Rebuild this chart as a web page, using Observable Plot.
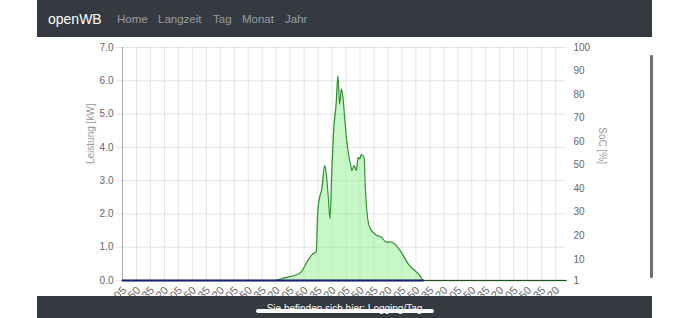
<!DOCTYPE html>
<html><head><meta charset="utf-8">
<script src="https://cdn.jsdelivr.net/npm/d3@7"></script>
<script src="https://cdn.jsdelivr.net/npm/@observablehq/plot@0.6"></script>
<style>
html,body{margin:0;padding:0;background:#fff;width:690px;height:318px;overflow:hidden;font-family:"Liberation Sans",Arial,Helvetica,sans-serif;}
#nav{position:absolute;left:37px;top:0;width:615px;height:37px;background:#343a40;}
#nav .brand{position:absolute;left:11px;top:9px;font-size:14px;line-height:20px;color:#fff;}
#nav .link{position:absolute;top:12px;font-size:11.5px;line-height:14px;color:rgba(255,255,255,0.5);}
.chart{position:absolute;left:0;top:37px;}
#footer{position:absolute;left:37px;top:296px;width:615px;height:22px;background:#343a40;overflow:hidden;}
#footer .txt{position:absolute;left:0;top:8px;width:615px;text-align:center;font-size:10px;line-height:10px;color:#fff;}
#footer .pill{position:absolute;left:219px;top:13px;width:178px;height:4px;border-radius:2px;background:#fff;}
#scroll{position:absolute;left:650px;top:55px;width:2.5px;height:223px;background:#707070;border-radius:1px;}
</style></head>
<body>
<div id="nav">
  <span class="brand">openWB</span>
  <span class="link" style="left:80px">Home</span>
  <span class="link" style="left:121px">Langzeit</span>
  <span class="link" style="left:176px">Tag</span>
  <span class="link" style="left:205px">Monat</span>
  <span class="link" style="left:248px">Jahr</span>
</div>
<div id="c1" class="chart"></div>
<div id="c2" class="chart"></div>
<div id="footer"><div class="txt">Sie befinden sich hier: Logging/Tag</div><div class="pill"></div></div>
<div id="scroll"></div>
<script>
// ---- data ----
const tickTimes = ["00:05","00:50","01:35","02:20","03:05","03:50","04:35","05:20","06:05","06:50","07:35","08:20","09:05","09:50","10:35","11:20","12:05","12:50","13:35","14:20","15:05","15:50","16:35","17:20","18:05","18:50","19:35","20:20","21:05","21:50","22:35","23:20"];
const pvTimes = ["00:05","08:13","08:46","09:19","09:40","10:02","10:18","10:29","10:34","10:39","10:47","10:56","11:00","11:07","11:13","11:20","11:25","11:33","11:39","11:44","11:50","11:55","12:00","12:06","12:13","12:19","12:24","12:31","12:38","12:44","12:49","12:54","13:03","13:07","13:14","13:21","13:37","13:59","14:15","14:31","14:47","15:03","15:25","15:46","16:03","16:14","23:55"];
const pvKw    = [0,0,0.08,0.15,0.25,0.6,0.8,0.87,2.1,2.45,2.75,3.45,3.3,2.6,1.86,3.5,4.5,5.3,6.15,5.3,5.75,5.5,4.95,4.3,3.8,3.5,3.3,3.45,3.3,3.7,3.65,3.78,3.7,2.8,1.9,1.6,1.4,1.3,1.15,1.15,1.05,0.85,0.5,0.3,0.15,0,0];
const socLineTimes = ["00:05","16:14"];
const socLineKw = [0,0];
const kwTicks = [0,1,2,3,4,5,6,7];
const socTicks = [1,10,20,30,40,50,60,70,80,90,100];
const xDomain = ["00:05","23:55"];

// ---- build ----
const toMin = s => { const [h,m] = s.split(":").map(Number); return h*60+m; };
const pv = pvTimes.map((t,i)=>({t:toMin(t), kw:pvKw[i]}));
const base = socLineTimes.map((t,i)=>({t:toMin(t), kw:socLineKw[i]}));
const tickMins = tickTimes.map(toMin);
const labelOf = new Map(tickTimes.map(t=>[toMin(t), t]));

const common = {
  width:690, height:259, marginLeft:122, marginRight:124, marginTop:10, marginBottom:16,
  style:{background:"transparent", fontFamily:"'Liberation Sans', Arial, sans-serif", fontSize:"10px", color:"#666", overflow:"visible"}
};

const chart1 = Plot.plot({
  ...common,
  x:{type:"linear", domain:xDomain.map(toMin), axis:null},
  y:{domain:[0,7], axis:null},
  marks:[
    Plot.gridX(tickMins, {stroke:"#000", strokeOpacity:0.1}),
    Plot.gridY(kwTicks, {stroke:"#000", strokeOpacity:0.1}),
    Plot.areaY(pv, {x:"t", y:"kw", fill:"#90ee90", fillOpacity:0.5, curve:"monotone-x"}),
    Plot.lineY(pv, {x:"t", y:"kw", stroke:"#2f8f2f", strokeWidth:1.2, curve:"monotone-x"}),
    Plot.ruleY([0], {stroke:"#000", strokeOpacity:0.4, strokeWidth:1.5}),
    Plot.lineY(base, {x:"t", y:"kw", stroke:"#1a1f71", strokeWidth:2}),
    Plot.ruleX([toMin(xDomain[0])], {stroke:"#000", strokeOpacity:0.25}),
    Plot.axisY(kwTicks, {anchor:"left", tickSize:6, tickPadding:3, stroke:"#000", strokeOpacity:0.1, fill:"#666", tickFormat:d=>d.toFixed(1), label:null}),
    Plot.axisX(tickMins, {anchor:"bottom", tickSize:0, tickPadding:8, dx:2, tickRotate:-45, fill:"#666", fontSize:11, tickFormat:d=>labelOf.get(d), label:null}),
    Plot.text(["Leistung [kW]"], {frameAnchor:"left", dx:-32, rotate:-90, fill:"#999"})
  ]
});
document.getElementById("c1").append(chart1);

const chart2 = Plot.plot({
  ...common,
  x:{domain:[0,1], axis:null},
  y:{domain:[1,100], axis:null},
  marks:[
    Plot.axisY(socTicks, {anchor:"right", tickSize:0, tickPadding:7, fill:"#666", label:null}),
    Plot.text(["SoC [%]"], {frameAnchor:"right", dx:36, rotate:90, fill:"#999"})
  ]
});
document.getElementById("c2").append(chart2);
</script>
</body></html>
